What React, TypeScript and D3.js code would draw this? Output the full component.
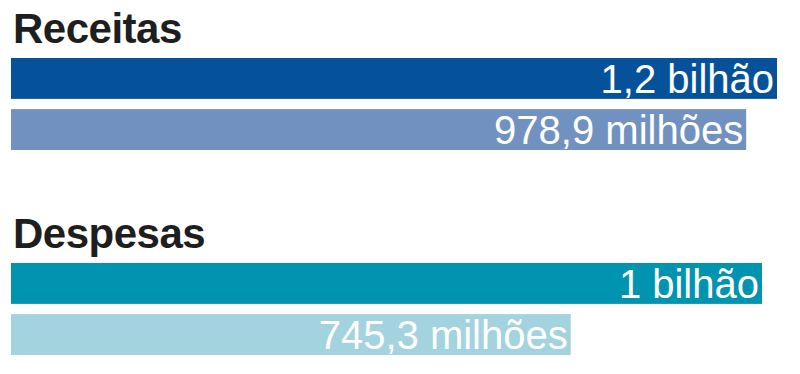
import React from "react";
import * as d3 from "d3";

const groups = ["Receitas", "Despesas"];
const series = ["atual", "anterior"];
// values in millions (bar lengths)
const receitasValues = [1020, 978.9];
const despesasValues = [1000, 745.3];
const receitasLabels = ["1,2 bilhão", "978,9 milhões"];
const despesasLabels = ["1 bilhão", "745,3 milhões"];
const receitasColors = ["#06529a", "#7192c0"];
const despesasColors = ["#0094b0", "#a3d3df"];

const W = 800;
const H = 374;

export default function App() {
  const x = d3.scaleLinear().domain([0, 1000]).range([11, 762]);
  const groupY = d3.scaleBand().domain(groups).range([0, 410]).paddingInner(0);
  const barY = d3.scaleBand().domain(series).range([58, 150]).paddingInner(0.2);

  const rows = [
    { name: groups[0], values: receitasValues, labels: receitasLabels, colors: receitasColors },
    { name: groups[1], values: despesasValues, labels: despesasLabels, colors: despesasColors },
  ];

  return (
    <svg
      width={W}
      height={H}
      style={{ position: "absolute", left: 0, top: 0, background: "#fff" }}
      fontFamily="'Liberation Sans', Arial, Helvetica, sans-serif"
    >
      {rows.map((g) => {
        const off = groupY(g.name) as number;
        return (
          <g key={g.name} transform={`translate(0,${off})`}>
            <text x={13} y={43} fontSize={42} fontWeight="bold" fill="#1e1e1e" letterSpacing={-0.5}>
              {g.name}
            </text>
            {g.values.map((v, i) => {
              const y0 = barY(series[i]) as number;
              const h = barY.bandwidth();
              return (
                <g key={i}>
                  <rect x={x(0)} y={y0} width={x(v) - x(0)} height={h} fill={g.colors[i]} />
                  <text
                    x={x(v) - 3}
                    y={y0 + h - 6}
                    textAnchor="end"
                    fontSize={40}
                    fill="#ffffff"
                  >
                    {g.labels[i]}
                  </text>
                </g>
              );
            })}
          </g>
        );
      })}
    </svg>
  );
}
